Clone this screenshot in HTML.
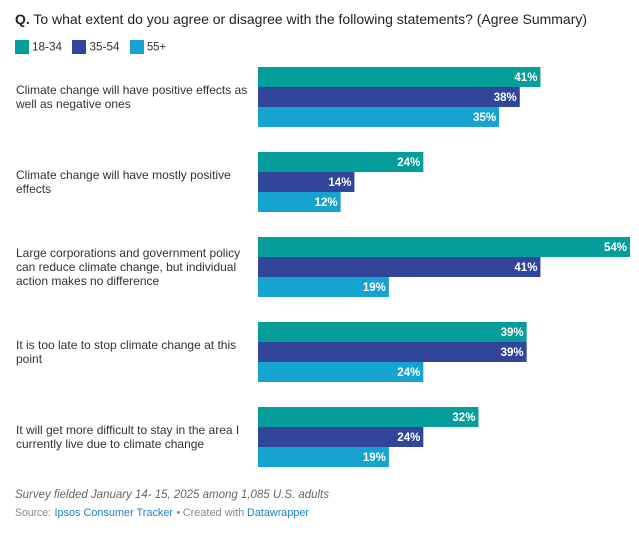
<!DOCTYPE html>
<html>
<head>
<meta charset="utf-8">
<style>
html,body{margin:0;padding:0;background:#fff;width:639px;height:533px;overflow:hidden}
svg{display:block;font-family:"Liberation Sans",sans-serif}
</style>
</head>
<body>
<svg id="chart" width="639" height="533" viewBox="0 0 639 533" xmlns="http://www.w3.org/2000/svg">
  <text x="15" y="24" font-size="14" fill="#222" textLength="572" lengthAdjust="spacingAndGlyphs"><tspan font-weight="700">Q.</tspan> To what extent do you agree or disagree with the following statements? (Agree Summary)</text>

  <g>
    <rect x="15" y="40" width="14" height="14" fill="#069e9a"/>
    <text x="32" y="50.500" font-size="12" fill="#333" textLength="30" lengthAdjust="spacingAndGlyphs">18-34</text>
    <rect x="72" y="40" width="14" height="14" fill="#31469b"/>
    <text x="89.500" y="50.500" font-size="12" fill="#333" textLength="30" lengthAdjust="spacingAndGlyphs">35-54</text>
    <rect x="130" y="40" width="14" height="14" fill="#17a3cf"/>
    <text x="147" y="50.500" font-size="12" fill="#333" textLength="19" lengthAdjust="spacingAndGlyphs">55+</text>
  </g>

  <g id="rows"></g>

  <text x="15" y="498" font-size="12" font-style="italic" fill="#666" textLength="314" lengthAdjust="spacingAndGlyphs">Survey fielded January 14- 15, 2025 among 1,085 U.S. adults</text>
  <g font-size="11">
    <text x="15" y="516" fill="#888" textLength="36" lengthAdjust="spacingAndGlyphs">Source:</text>
    <text x="54.500" y="516" fill="#1d81c9" textLength="118.500" lengthAdjust="spacingAndGlyphs">Ipsos Consumer Tracker</text>
    <text x="176.500" y="516" fill="#888">•</text>
    <text x="182.700" y="516" fill="#888" textLength="61.500" lengthAdjust="spacingAndGlyphs">Created with</text>
    <text x="247" y="516" fill="#1d81c9" textLength="62" lengthAdjust="spacingAndGlyphs">Datawrapper</text>
  </g>
</svg>
<script>
var categories = [
  ["Climate change will have positive effects as", "well as negative ones"],
  ["Climate change will have mostly positive", "effects"],
  ["Large corporations and government policy", "can reduce climate change, but individual", "action makes no difference"],
  ["It is too late to stop climate change at this", "point"],
  ["It will get more difficult to stay in the area I", "currently live due to climate change"]
];
var seriesNames = ["18-34", "35-54", "55+"];
var values1834 = [41, 24, 54, 39, 32];
var values3554 = [38, 14, 41, 39, 24];
var values55plus = [35, 12, 19, 24, 19];

var seriesValues = [values1834, values3554, values55plus];
var seriesColors = ["#069e9a", "#31469b", "#17a3cf"];
var NS = "http://www.w3.org/2000/svg";
var rowsEl = document.getElementById("rows");

function xScale(v) { return v * (372 / 54); }
function rowY(rowIndex) { return 67 + rowIndex * 85; }

categories.forEach(function (lines, r) {
  var group = document.createElementNS(NS, "g");
  
  
  var center = rowY(r) + 30;
  var firstBaseline = center - (lines.length - 1) * 7 + 4;
  lines.forEach(function (line, i) {
    var t = document.createElementNS(NS, "text");
    
    
    t.setAttribute("x", 16);
    t.setAttribute("y", firstBaseline + i * 14);
    t.setAttribute("font-size", "12");
    t.setAttribute("fill", "#333");
    t.textContent = line;
    group.appendChild(t);
  });
  seriesValues.forEach(function (vals, s) {
    var y = rowY(r) + s * 20;
    var w = xScale(vals[r]);
    var rect = document.createElementNS(NS, "rect");
    
    
    rect.setAttribute("x", 258);
    rect.setAttribute("y", y);
    rect.setAttribute("width", w);
    rect.setAttribute("height", 20);
    rect.setAttribute("fill", seriesColors[s]);
    group.appendChild(rect);
    var lab = document.createElementNS(NS, "text");
    
    
    lab.setAttribute("x", 258 + w - 3);
    lab.setAttribute("y", y + 14);
    lab.setAttribute("text-anchor", "end");
    lab.setAttribute("font-size", "11.5");
    lab.setAttribute("font-weight", "700");
    lab.setAttribute("fill", "#fff");
    lab.textContent = vals[r] + "%";
    group.appendChild(lab);
  });
  rowsEl.appendChild(group);
});
</script>
</body>
</html>
